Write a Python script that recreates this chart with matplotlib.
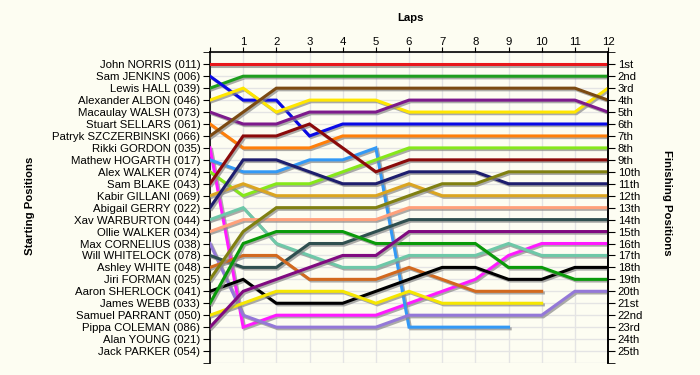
import matplotlib
matplotlib.use("Agg")
import matplotlib.pyplot as plt
import matplotlib.patheffects as pe
import numpy as np

laps = list(range(0, 13))
lap_labels = ["", "1", "2", "3", "4", "5", "6", "7", "8", "9", "10", "11", "12"]

starting_labels = [
    "John NORRIS (011)", "Sam JENKINS (006)", "Lewis HALL (039)", "Alexander ALBON (046)",
    "Macaulay WALSH (073)", "Stuart SELLARS (061)", "Patryk SZCZERBINSKI (066)",
    "Rikki GORDON (035)", "Mathew HOGARTH (017)", "Alex WALKER (074)", "Sam BLAKE (043)",
    "Kabir GILLANI (069)", "Abigail GERRY (022)", "Xav WARBURTON (044)", "Ollie WALKER (034)",
    "Max CORNELIUS (038)", "Will WHITELOCK (078)", "Ashley WHITE (048)", "Jiri FORMAN (025)",
    "Aaron SHERLOCK (041)", "James WEBB (033)", "Samuel PARRANT (050)", "Pippa COLEMAN (086)",
    "Alan YOUNG (021)", "Jack PARKER (054)",
]
finishing_labels = [
    "1st", "2nd", "3rd", "4th", "5th", "6th", "7th", "8th", "9th", "10th", "11th", "12th",
    "13th", "14th", "15th", "16th", "17th", "18th", "19th", "20th", "21st", "22nd", "23rd",
    "24th", "25th",
]

N = None
norris      = [1, 1, 1, 1, 1, 1, 1, 1, 1, 1, 1, 1, 1]
jenkins     = [2, 4, 4, 7, 6, 6, 6, 6, 6, 6, 6, 6, 6]
hall        = [3, 2, 2, 2, 2, 2, 2, 2, 2, 2, 2, 2, 2]
albon       = [4, 3, 5, 4, 4, 4, 5, 5, 5, 5, 5, 5, 3]
walsh       = [5, 6, 6, 5, 5, 5, 4, 4, 4, 4, 4, 4, 5]
sellars     = [6, 8, 8, 8, 7, 7, 7, 7, 7, 7, 7, 7, 7]
szczerbinski = [7, 5, 3, 3, 3, 3, 3, 3, 3, 3, 3, 3, 4]
gordon      = [8, 23, 22, 22, 22, 22, 21, 20, 19, 17, 16, 16, 16]
hogarth     = [9, 10, 10, 9, 9, 8, 23, 23, 23, 23, N, N, N]
a_walker    = [10, 12, 11, 11, 10, 9, 8, 8, 8, 8, 8, 8, 8]
blake       = [11, 7, 7, 6, 8, 10, 9, 9, 9, 9, 9, 9, 9]
gillani     = [12, 11, 12, 12, 12, 12, 11, 12, 12, 12, 12, 12, 12]
gerry       = [13, 9, 9, 10, 11, 11, 10, 10, 10, 11, 11, 11, 11]
warburton   = [14, 13, 16, 17, 18, 18, 17, 17, 17, 16, 17, 17, 17]
o_walker    = [15, 14, 14, 14, 14, 14, 13, 13, 13, 13, 13, 13, 13]
cornelius   = [16, 22, 23, 23, 23, 23, 22, 22, 22, 22, 22, 20, 20]
whitelock   = [17, 18, 18, 16, 16, 15, 14, 14, 14, 14, 14, 14, 14]
white       = [18, 17, 17, 19, 19, 19, 18, 19, 20, 20, 20, N, N]
forman      = [19, 15, 13, 13, 13, 13, 12, 11, 11, 10, 10, 10, 10]
sherlock    = [20, 19, 21, 21, 21, 20, 19, 18, 18, 19, 19, 18, 18]
webb        = [21, 16, 15, 15, 15, 16, 16, 16, 16, 18, 18, 19, 19]
parrant     = [22, 21, 20, 20, 20, 21, 20, 21, 21, 21, 21, N, N]
coleman     = [23, 20, 19, 18, 17, 17, 15, 15, 15, 15, 15, 15, 15]

series = [
    (norris, "#e8171c"), (hall, "#1e9e1e"), (jenkins, "#0a0ae6"), (albon, "#ffe600"),
    (walsh, "#7d1a8c"), (sellars, "#ff7f0a"), (szczerbinski, "#7b4a12"),
    (gordon, "#ff1aff"), (hogarth, "#3399f5"), (a_walker, "#86e81a"), (blake, "#8b0a0a"),
    (gillani, "#dba520"), (gerry, "#1e1e6e"), (warburton, "#6ec8a8"), (o_walker, "#ffa07a"),
    (cornelius, "#9478d8"), (whitelock, "#2f4f4f"), (white, "#d2691e"), (forman, "#808010"),
    (sherlock, "#000000"), (webb, "#0a9a0a"), (parrant, "#f5e600"), (coleman, "#800a80"),
]

bg = "#fdfdf2"
plt.rcParams["font.family"] = ["Liberation Sans", "DejaVu Sans"]
fig = plt.figure(figsize=(7, 3.75), dpi=100, facecolor=bg)
ax = fig.add_axes([0.3, 0.032, 0.5686, 0.8285])
ax.set_facecolor(bg)

for vals, col in series:
    y = np.array([np.nan if v is None else v for v in vals], dtype=float)
    ax.plot(laps, y, color=col, lw=2.2, solid_joinstyle="miter", zorder=3,
            path_effects=[pe.SimpleLineShadow(offset=(1.2, -1.2), shadow_color="#888888", alpha=0.7),
                          pe.Normal()])

ax.set_xlim(0, 12)
ax.set_ylim(26, 0)
positions = list(range(1, 26))
ax.set_yticks(positions)
ax.set_yticklabels(starting_labels, fontsize=8.2)
ax.set_yticks([0, 26], minor=True)
ax.set_xticks(laps)
ax.set_xticklabels(lap_labels, fontsize=8.2)
ax.xaxis.tick_top()
ax.tick_params(axis="x", which="both", direction="out", length=3.5, pad=0.5)
ax.tick_params(axis="y", which="both", direction="out", length=5, pad=2, labelsize=8.2)

for p in range(0, 27):
    ax.axhline(p, color="#e4e4e4", lw=1, zorder=1)
for l in laps:
    ax.axvline(l, color="#e4e4e4", lw=1, zorder=1)

ax.spines["bottom"].set_visible(False)
ax.spines["left"].set_linewidth(1.2)
ax.spines["right"].set_linewidth(1.2)
ax.spines["top"].set_linewidth(1.2)

ax2 = ax.twinx()
ax2.set_ylim(26, 0)
ax2.set_yticks(positions)
ax2.set_yticklabels(finishing_labels, fontsize=8.2)
ax2.set_yticks([0, 26], minor=True)
ax2.tick_params(axis="y", which="both", direction="out", length=5, pad=2, labelsize=8.2)
for s in ["bottom", "top", "left"]:
    ax2.spines[s].set_visible(False)
ax2.spines["right"].set_linewidth(1.2)

fig.text(0.586, 0.952, "Laps", ha="center", va="center", fontsize=8.2, fontweight="bold")
fig.text(0.043, 0.45, "Starting Positions", ha="center", va="center", rotation=90,
         fontsize=8.2, fontweight="bold")
fig.text(0.953, 0.46, "Finishing Positions", ha="center", va="center", rotation=-90,
         fontsize=8.2, fontweight="bold")

fig.savefig("out.png", dpi=100, facecolor=bg)
